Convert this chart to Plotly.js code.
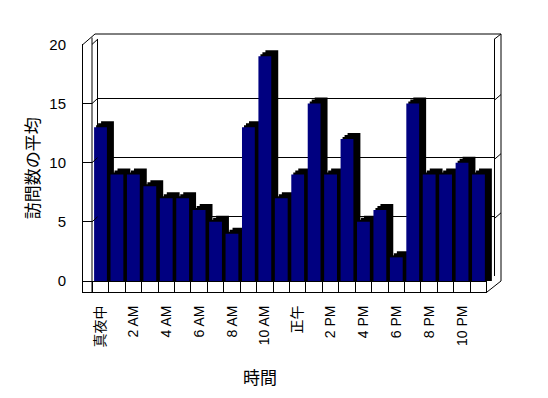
<!DOCTYPE html>
<html><head><meta charset="utf-8">
<script src="https://cdn.plot.ly/plotly-3.0.1.min.js"></script>
<style>html,body{margin:0;padding:0;background:#fff}#chart{width:548px;height:398px}</style>
</head><body><div id="chart"></div>
<script>
// ---- data ----
const categories = ['真夜中','1 AM','2 AM','3 AM','4 AM','5 AM','6 AM','7 AM','8 AM','9 AM','10 AM','11 AM',
  '正午','1 PM','2 PM','3 PM','4 PM','5 PM','6 PM','7 PM','8 PM','9 PM','10 PM','11 PM'];
const visits = [13,9,9,8,7,7,6,5,4,13,19,7,9,15,9,12,5,6,2,15,9,9,10,9];
const yTickVals = [0,5,10,15,20];
const xTitle = '時間';
const yTitle = '訪問数の平均';

// ---- geometry (pixels) ----
const W = 548, H = 398;
const px = x => x / W, py = y => 1 - y / H;
const PPU = 11.83, Y0 = 281;               // front scale: pixels per unit, y of zero
const FX = [83, 487], FY = [292, 44.4];    // front axes box
const yRange = [-(FY[0] - Y0) / PPU, (Y0 - FY[1]) / PPU];
const xRange = [-1.065, 23.52];
const WALL = {x: [97.5, 494], y: [276, 39.4], dy: 5};
const idx = categories.map((_, i) => i);
const evenIdx = idx.filter(i => i % 2 === 0);
const FONT = 'Liberation Sans, Arial, Noto Sans CJK JP, sans-serif';
const CJK = 'Noto Sans CJK JP, sans-serif';

const traces = [];
const layout = {
  width: W, height: H, margin: {l: 0, r: 0, t: 0, b: 0},
  paper_bgcolor: '#fff', plot_bgcolor: 'rgba(0,0,0,0)', showlegend: false,
  font: {family: FONT, size: 14, color: '#000'},
  shapes: [], annotations: []
};

// back wall subplot
traces.push({type: 'scatter', x: [], y: [], xaxis: 'x', yaxis: 'y', hoverinfo: 'skip'});
layout.xaxis = {domain: [px(WALL.x[0]), px(WALL.x[1])], range: xRange, anchor: 'y',
  showgrid: false, zeroline: false, showticklabels: false, ticks: '', showline: false};
layout.yaxis = {domain: [py(WALL.y[0]), py(WALL.y[1])], range: [0, 20], anchor: 'x',
  tickvals: yTickVals, showticklabels: false, ticks: '', showgrid: true, gridcolor: '#000', gridwidth: 1,
  zeroline: false, showline: true, mirror: true, linecolor: '#000', linewidth: 1};

// shadow (side/top) layers
const offsets = [[2, 2], [4, 4], [7, 6]];
offsets.forEach((o, k) => {
  const n = k + 2;
  const base = -o[1] / PPU;
  traces.push({type: 'bar', x: idx, y: visits.map(v => v - base), base: base, width: 0.78,
    marker: {color: '#000', line: {width: 0}}, xaxis: 'x' + n, yaxis: 'y' + n, hoverinfo: 'skip'});
  layout['xaxis' + n] = {domain: [px(FX[0] + o[0]), px(FX[1] + o[0])], range: xRange, anchor: 'y' + n, visible: false};
  layout['yaxis' + n] = {domain: [py(FY[0] - o[1]), py(FY[1] - o[1])], range: yRange, anchor: 'x' + n, visible: false};
});

// front face bars
traces.push({type: 'bar', x: idx, y: visits, width: 0.78, marker: {color: '#000080', line: {width: 0}},
  xaxis: 'x5', yaxis: 'y5', hovertemplate: '%{text}: %{y}<extra></extra>', text: categories, textposition: 'none'});
layout.xaxis5 = {domain: [px(FX[0]), px(FX[1])], range: xRange, anchor: 'y5',
  tickmode: 'array', tickvals: evenIdx, ticktext: evenIdx.map(i => categories[i]), tickangle: -90,
  ticks: '', ticklabelstandoff: 7, tickfont: {family: FONT, size: 14, color: '#000'},
  showline: true, linecolor: '#000', linewidth: 1, showgrid: false, zeroline: false,
  minor: {tickmode: 'linear', tick0: -0.5, dtick: 1, ticks: 'inside', ticklen: 11, tickcolor: '#000', tickwidth: 1, showgrid: false}};
layout.yaxis5 = {domain: [py(FY[0]), py(FY[1])], range: yRange, anchor: 'x5',
  tickvals: yTickVals, ticks: 'inside', ticklen: 9, tickcolor: '#000', tickfont: {family: FONT, size: 15, color: '#000'},
  ticklabelstandoff: 13,
  showline: true, linecolor: '#000', linewidth: 1, showgrid: false,
  zeroline: true, zerolinecolor: '#000', zerolinewidth: 1,
  title: {text: yTitle, font: {family: CJK, size: 17, color: '#000'}}};

// frame decoration lines
const L = (x0, y0, x1, y1) => layout.shapes.push({type: 'line', xref: 'paper', yref: 'paper',
  x0: px(x0), y0: py(y0), x1: px(x1), y1: py(y1), line: {color: '#000', width: 1}});
L(FX[0], FY[1], 95, 34);
L(95, 34, 501, 34);
L(501, 34, 501, 281);
L(WALL.x[1], WALL.y[1], 501, 34);
L(FX[1], FY[0], 501, 281);
L(92, 37.5, 92, FY[0]);
yTickVals.filter(v => v > 0).forEach(v => {
  const yf = Y0 - PPU * v;
  L(92, yf, WALL.x[0], yf - WALL.dy);
  const yw = WALL.y[0] - (WALL.y[0] - WALL.y[1]) * v / 20;
  if (v < 20) L(WALL.x[1], yw + 2, 501, yw - 4);
});

layout.annotations.push({text: xTitle, xref: 'paper', yref: 'paper', x: px(260), y: py(376),
  xanchor: 'center', yanchor: 'middle', showarrow: false, font: {family: CJK, size: 17, color: '#000'}});

Plotly.newPlot('chart', traces, layout, {displayModeBar: false, staticPlot: true});
</script></body></html>
